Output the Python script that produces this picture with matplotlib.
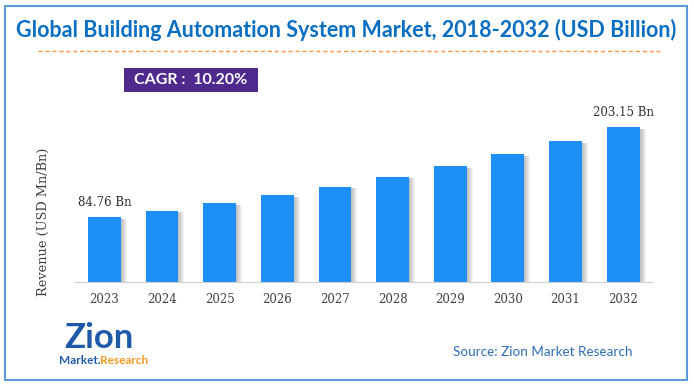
import matplotlib.pyplot as plt
from matplotlib.patches import Rectangle
from matplotlib.lines import Line2D

years = ["2023", "2024", "2025", "2026", "2027", "2028", "2029", "2030", "2031", "2032"]
revenue = [84.76, 93.4, 102.9, 113.4, 125.0, 137.8, 151.8, 167.3, 184.4, 203.15]
first_label = "84.76 Bn"
last_label = "203.15 Bn"
cagr_text = "CAGR :  10.20%"
title = "Global Building Automation System Market, 2018-2032 (USD Billion)"

W, H = 694, 387
fig = plt.figure(figsize=(W / 100, H / 100), dpi=100)

def fx(px):
    return px / W

def fy(py):
    return 1 - py / H

# outer border
fig.patches.append(Rectangle((fx(5), fy(380)), fx(682), 374 / H, transform=fig.transFigure,
                             fill=False, edgecolor="#5B9BD5", linewidth=1.5))

fig.text(fx(346), fy(30), title, ha="center", va="center", fontsize=15.5,
         fontweight="bold", color="#0A6FC2", family="Lato")
fig.lines.append(Line2D([fx(38), fx(660)], [fy(51), fy(51)], transform=fig.transFigure,
                        color="#F79646", linewidth=1, linestyle=(0, (3, 2))))

# CAGR box
fig.patches.append(Rectangle((fx(124), fy(92)), fx(134), 24 / H, transform=fig.transFigure,
                             facecolor="#4E2A8E", edgecolor="none"))
fig.text(fx(191), fy(80), cagr_text, ha="center", va="center", fontsize=11.5,
         fontweight="bold", color="white", family="Lato")

ax = fig.add_axes([fx(75), fy(282), fx(577), 182 / H])
x = list(range(len(years)))
px = 1 / 57.6

# soft shadow to the right of each bar
for k in range(1, 7):
    ax.bar([i + k * px for i in x], [v - 2 for v in revenue], width=0.57,
           color="#555555", alpha=0.07, zorder=1, linewidth=0)
ax.bar(x, revenue, width=0.57, color="#1E8FF8", zorder=2, linewidth=0)

ax.set_xlim(-0.51, 9.5)
ax.set_ylim(0, 238.5)
ax.set_yticks([])
ax.set_xticks(x)
ax.set_xticklabels(years, family="DejaVu Serif", fontsize=8.5, color="#404040")
ax.tick_params(axis="x", length=0, pad=8)
for s in ["top", "right", "left"]:
    ax.spines[s].set_visible(False)
ax.spines["bottom"].set_color("#D0D0D0")

ax.annotate(first_label, (0, revenue[0]), xytext=(0, 6), textcoords="offset points",
            ha="center", va="bottom", family="DejaVu Serif", fontsize=8.5, color="#303030")
ax.annotate(last_label, (9, revenue[-1]), xytext=(0, 6), textcoords="offset points",
            ha="center", va="bottom", family="DejaVu Serif", fontsize=8.5, color="#303030")

fig.text(fx(43), fy(222), "Revenue (USD Mn/Bn)", rotation=90, ha="center", va="center",
         family="DejaVu Serif", fontsize=9.3, color="#404040")

# source & logo
fig.text(fx(453), fy(352), "Source: Zion Market Research", ha="left", va="center",
         fontsize=9.7, color="#2E6DB4", family="Lato")
fig.text(fx(99), fy(338), "Zion", ha="center", va="center", fontsize=25,
         fontweight="bold", color="#1F5AA8", family="Lato")
fig.text(fx(100), fy(360), "Market.", ha="right", va="center", fontsize=8.5,
         fontweight="bold", color="#1F5AA8", family="Lato")
fig.text(fx(100), fy(360), "Research", ha="left", va="center", fontsize=8.5,
         fontweight="bold", color="#F39A1F", family="Lato")

fig.savefig("out.png", dpi=100)
